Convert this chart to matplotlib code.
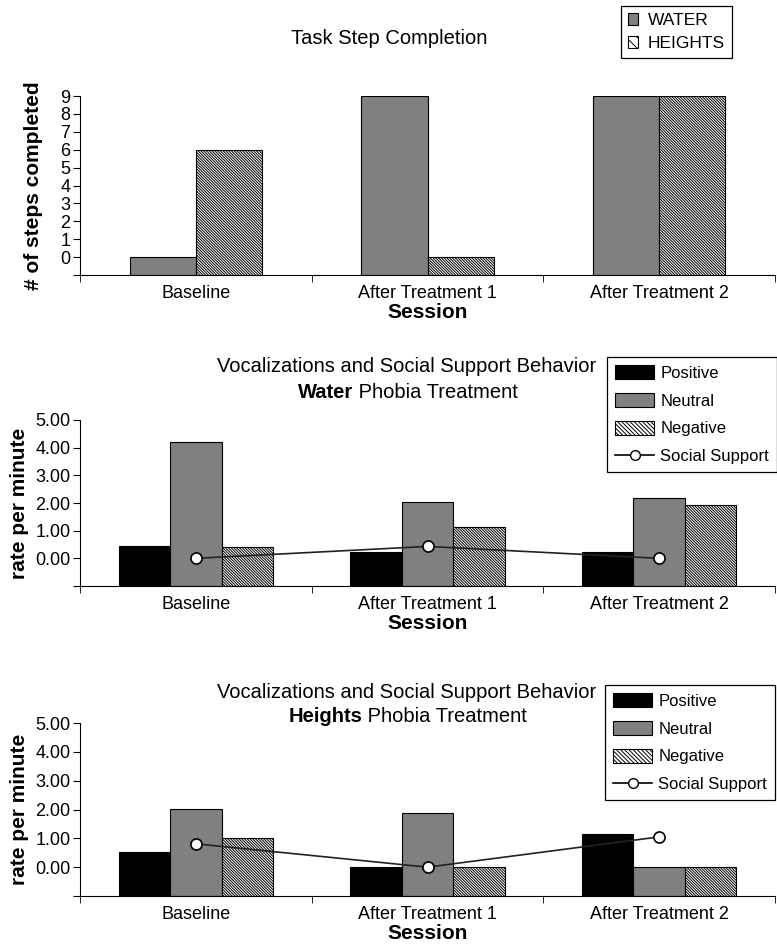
import numpy as np
import matplotlib.pyplot as plt
from matplotlib.lines import Line2D
from matplotlib.patches import Patch

plt.rcParams['font.family'] = ['Liberation Sans', 'DejaVu Sans']
plt.rcParams['hatch.linewidth'] = 0.7
plt.rcParams['hatch.color'] = '#333333'

sessions = ['Baseline', 'After Treatment 1', 'After Treatment 2']

# task step completion
water_steps = [0, 9, 9]
heights_steps = [6, 0, 9]

# water phobia treatment (rate per minute)
w_positive = [0.43, 0.23, 0.23]
w_neutral = [4.21, 2.04, 2.17]
w_negative = [0.42, 1.13, 1.94]
w_social = [0.00, 0.43, 0.00]

# heights phobia treatment (rate per minute)
h_positive = [0.52, 0.00, 1.16]
h_neutral = [2.01, 1.88, 0.00]
h_negative = [1.02, 0.00, 0.00]
h_social = [0.81, 0.00, 1.05]

GRAY = '#808080'
HATCH = '\\' * 12
W, H = 777, 948

fig = plt.figure(figsize=(W / 100, H / 100), dpi=100)


def px_axes(left, top, right, bottom):
    return fig.add_axes([left / W, 1 - bottom / H, (right - left) / W, (bottom - top) / H])


def style_axes(ax, ymin, ymax, fmt):
    for s in ['top', 'right']:
        ax.spines[s].set_visible(False)
    ax.set_xlim(-0.5, 2.5)
    ax.set_ylim(ymin, ymax)
    ax.set_xticks(range(3))
    ax.set_xticklabels(sessions, fontsize=13)
    ax.tick_params(axis='x', which='major', length=0, pad=7)
    ax.set_xticks([-0.5, 0.5, 1.5, 2.5], minor=True)
    ax.tick_params(axis='x', which='minor', length=5, direction='out')
    ticks = np.arange(ymin, ymax + 1)
    ax.set_yticks(ticks)
    ax.set_yticklabels([''] + [fmt.format(t) for t in ticks[1:]], fontsize=13)
    ax.tick_params(axis='y', length=5, pad=2)
    ax.set_xlabel('Session', fontsize=15, fontweight='bold', labelpad=1)


# ---------- panel 1 ----------
ax1 = px_axes(80, 96, 775, 275)
x = np.arange(3)
bw = 1 / 3.5
base = -1
ax1.bar(x - bw / 2, np.array(water_steps) - base, bw, bottom=base, color=GRAY,
        edgecolor='black', linewidth=0.8)
ax1.bar(x + bw / 2, np.array(heights_steps) - base, bw, bottom=base, color='white',
        edgecolor='black', linewidth=0.8, hatch=HATCH)
style_axes(ax1, -1, 9, '{:.0f}')
ax1.set_yticklabels([''] + [str(i) for i in range(10)], fontsize=13)
ax1.set_ylabel('# of steps completed', fontsize=15, fontweight='bold', labelpad=12)
fig.text(389 / W, 1 - 38 / H, 'Task Step Completion', ha='center', va='center', fontsize=14.5)
leg1 = fig.legend(handles=[Patch(facecolor=GRAY, edgecolor='black', linewidth=0.8, label='WATER'),
                           Patch(facecolor='white', edgecolor='black', linewidth=0.8, hatch='\\\\\\',
                                 label='HEIGHTS')],
                  loc='upper left', bbox_to_anchor=(621 / W, 1 - 6 / H), borderaxespad=0,
                  fontsize=12.5, frameon=True, fancybox=False, edgecolor='black', framealpha=1,
                  handlelength=0.6, handleheight=0.7, handletextpad=0.55, borderpad=0.4,
                  labelspacing=0.45)
leg1.get_frame().set_linewidth(0.9)


def vocal_panel(top, bottom, pos, neu, neg, soc, word, title_y, split_x, leg_box):
    ax = px_axes(80, top, 775, bottom)
    bw = 1 / 4.5
    ax.bar(x - bw, np.array(pos) - base, bw, bottom=base, color='black',
           edgecolor='black', linewidth=0.8)
    ax.bar(x, np.array(neu) - base, bw, bottom=base, color=GRAY,
           edgecolor='black', linewidth=0.8)
    ax.bar(x + bw, np.array(neg) - base, bw, bottom=base, color='white',
           edgecolor='black', linewidth=0.8, hatch=HATCH)
    ax.plot(x, soc, color='#222222', linewidth=1.2, marker='o', markersize=8,
            markerfacecolor='white', markeredgecolor='black', markeredgewidth=1.2, zorder=5)
    style_axes(ax, -1, 5, '{:.2f}')
    ax.set_ylabel('rate per minute', fontsize=15, fontweight='bold', labelpad=4)
    fig.text(407 / W, 1 - title_y / H, 'Vocalizations and Social Support Behavior',
             ha='center', va='center', fontsize=14.5)
    fig.text(split_x / W, 1 - (title_y + 25) / H, word, ha='right', va='center',
             fontsize=14.5, fontweight='bold')
    fig.text(split_x / W, 1 - (title_y + 25) / H, ' Phobia Treatment', ha='left',
             va='center', fontsize=14.5)
    handles = [Patch(facecolor='black', edgecolor='black', linewidth=0.8, label='Positive'),
               Patch(facecolor=GRAY, edgecolor='black', linewidth=0.8, label='Neutral'),
               Patch(facecolor='white', edgecolor='black', linewidth=0.8, hatch='\\' * 8,
                     label='Negative'),
               Line2D([0], [0], color='black', linewidth=1.2, marker='o', markersize=7,
                      markerfacecolor='white', markeredgecolor='black', label='Social Support')]
    lg = fig.legend(handles=handles, loc='upper left',
                    bbox_to_anchor=(leg_box[0] / W, 1 - leg_box[1] / H), borderaxespad=0,
                    fontsize=12, frameon=True, fancybox=False, edgecolor='black',
                    framealpha=1, handlelength=2.3, handleheight=0.9, handletextpad=0.4,
                    borderpad=0.5, labelspacing=0.72)
    lg.get_frame().set_linewidth(0.9)
    return ax


vocal_panel(420, 586, w_positive, w_neutral, w_negative, w_social, 'Water', 367, 353,
            (607, 357))
vocal_panel(723, 896, h_positive, h_neutral, h_negative, h_social, 'Heights', 692, 362,
            (605, 685))

fig.savefig('out.png', dpi=100)
